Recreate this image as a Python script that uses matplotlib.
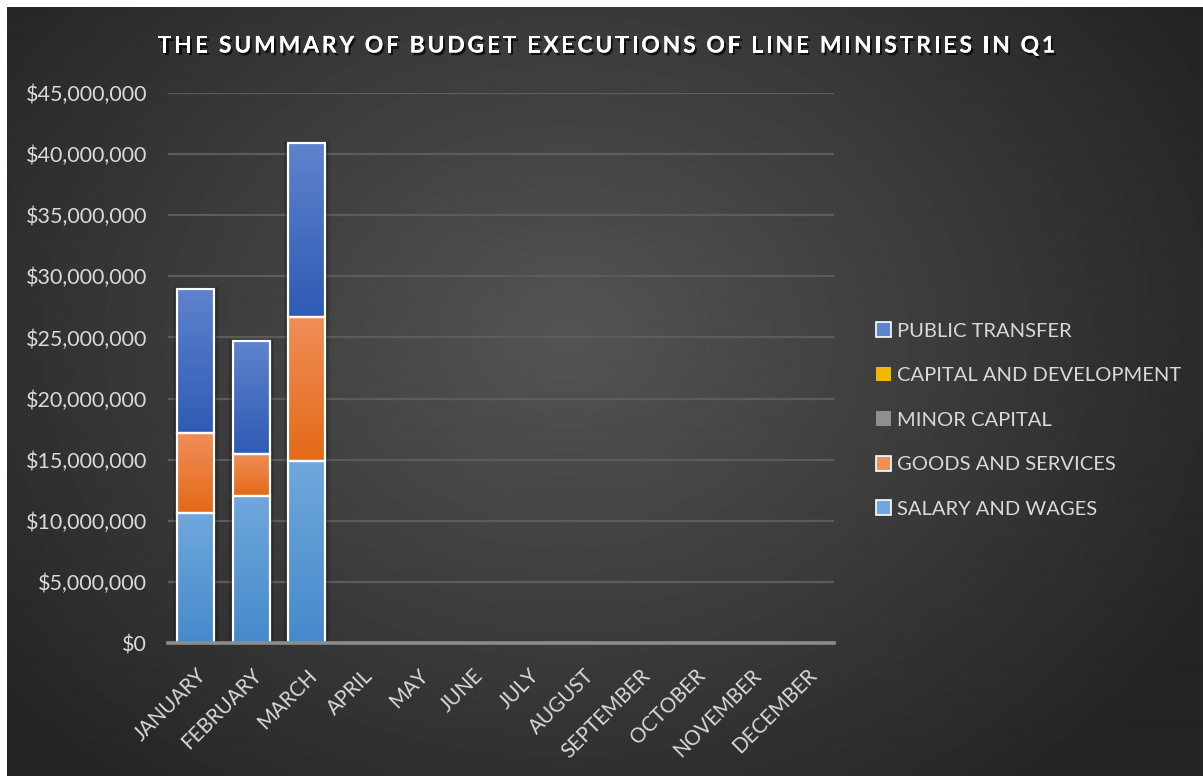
import numpy as np
import matplotlib.pyplot as plt
import matplotlib.patheffects as pe
from matplotlib.patches import Patch, Rectangle
from matplotlib.colors import LinearSegmentedColormap
from matplotlib.ticker import FuncFormatter

months = ['JANUARY', 'FEBRUARY', 'MARCH', 'APRIL', 'MAY', 'JUNE', 'JULY',
          'AUGUST', 'SEPTEMBER', 'OCTOBER', 'NOVEMBER', 'DECEMBER']

# budget executions per month (USD), only Q1 reported
salary_wages = [10640000, 12030000, 14900000, 0, 0, 0, 0, 0, 0, 0, 0, 0]
goods_services = [6540000, 3440000, 11800000, 0, 0, 0, 0, 0, 0, 0, 0, 0]
minor_capital = [0] * 12
capital_development = [0] * 12
public_transfer = [11790000, 9230000, 14200000, 0, 0, 0, 0, 0, 0, 0, 0, 0]

title = 'THE SUMMARY OF BUDGET EXECUTIONS OF LINE MINISTRIES IN Q1'

series = [
    ('SALARY AND WAGES', salary_wages, '#6fa8dc', '#4689cb', True),
    ('GOODS AND SERVICES', goods_services, '#f08e58', '#e36a17', True),
    ('MINOR CAPITAL', minor_capital, '#b5b5b5', '#8f8f8f', False),
    ('CAPITAL AND DEVELOPMENT', capital_development, '#ffd11a', '#f2b800', False),
    ('PUBLIC TRANSFER', public_transfer, '#5f83cd', '#2e5bb4', True),
]

plt.rcParams['font.family'] = ['Lato', 'DejaVu Sans']

fig = plt.figure(figsize=(12.03, 7.76), dpi=100)
fig.patch.set_facecolor('white')

# dark radial background
bg = fig.add_axes([7 / 1203, 0, 1 - 7 / 1203, 1 - 7 / 776])
bg.set_axis_off()
yy, xx = np.mgrid[0:770, 0:1196]
r = np.hypot((xx - 560) / 700.0, (yy - 330) / 560.0)
shade = np.clip(0.33 - 0.18 * r, 0.14, 0.34)
bg.imshow(shade, cmap='gray', vmin=0, vmax=1, aspect='auto',
          extent=[0, 1, 0, 1], interpolation='bilinear')
bg.set_xlim(0, 1)
bg.set_ylim(0, 1)

ax = fig.add_axes([168 / 1203, 1 - 643 / 776, 666 / 1203, 550 / 776])
ax.patch.set_alpha(0)

x = np.arange(len(months))
width = 0.667
totals = np.sum([np.array(s[1], dtype=float) for s in series], axis=0)

# soft shadow around each stacked column
for xi, tot in zip(x, totals):
    if tot <= 0:
        continue
    for grow, a in [(0.16, 0.10), (0.10, 0.14), (0.05, 0.18)]:
        ax.add_patch(Rectangle((xi - width / 2 - grow / 2, 0), width + grow,
                               tot + grow * 1.2e6, facecolor='black',
                               edgecolor='none', alpha=a, zorder=2))

bottom = np.zeros(len(months))
for name, vals, top_c, bot_c, edged in series:
    vals = np.array(vals, dtype=float)
    bars = ax.bar(x, vals, width, bottom=bottom, color='none',
                  edgecolor='white', linewidth=1.6, zorder=4)
    cmap = LinearSegmentedColormap.from_list(name, [bot_c, top_c])
    grad = np.linspace(0, 1, 128).reshape(-1, 1)
    for b, v in zip(bars, vals):
        if v <= 0:
            b.set_visible(False)
            continue
        x0, y0 = b.get_x(), b.get_y()
        ax.imshow(grad, cmap=cmap, origin='lower', aspect='auto',
                  extent=[x0, x0 + b.get_width(), y0, y0 + v], zorder=3)
    bottom += vals

ax.set_xlim(-0.5, len(months) - 0.5)
ax.set_ylim(0, 45000000)
ax.set_yticks(np.arange(0, 45000001, 5000000))
ax.yaxis.set_major_formatter(FuncFormatter(lambda v, p: '${:,.0f}'.format(v)))
ax.grid(axis='y', color='#5c5c5c', linewidth=1.6, zorder=0)
for s in ['top', 'right', 'left']:
    ax.spines[s].set_visible(False)
ax.spines['bottom'].set_color('#8c8c8c')
ax.spines['bottom'].set_linewidth(2.6)
ax.spines['bottom'].set_zorder(5)
ax.tick_params(axis='both', length=0, colors='#d9d9d9', labelsize=15.5)
ax.tick_params(axis='y', pad=15)
ax.set_xticks(x)
ax.set_xticklabels(months, rotation=45, ha='right', va='top',
                   rotation_mode='anchor', fontsize=14.8)
ax.tick_params(axis='x', pad=16)
for lbl in ax.get_xticklabels():
    lbl.set_x(lbl.get_position()[0] - 0.12)

# title drawn letter by letter to get the wide tracking
renderer = fig.canvas.get_renderer()
title_left, title_right = 158, 1055
shadow = [pe.withSimplePatchShadow(offset=(1.5, -2), shadow_rgbFace='black', alpha=0.7),
          pe.Normal()]
chars = []
for ch in title:
    t = fig.text(0, 1 - 46 / 776, ch, ha='left', va='center', color='white',
                 fontsize=16.5, fontweight='bold', path_effects=shadow)
    chars.append(t)
widths = [t.get_window_extent(renderer).width if ch != ' ' else 0
          for t, ch in zip(chars, title)]
space_w = 5.0
base = [w if ch != ' ' else space_w for w, ch in zip(widths, title)]
gap = (title_right - title_left - sum(base)) / (len(title) - 1)
pos = title_left
for t, w in zip(chars, base):
    t.set_x(pos / 1203)
    pos += w + gap

handles = []
for name, vals, top_c, bot_c, edged in reversed(series):
    handles.append(Patch(facecolor=bot_c if not edged else top_c,
                         edgecolor='white' if edged else 'none', linewidth=1.2,
                         label=name))
leg = fig.legend(handles=handles, loc='center left',
                 bbox_to_anchor=(858 / 1203, 1 - 420 / 776), frameon=False,
                 fontsize=14.5, labelcolor='#d9d9d9', handlelength=0.75,
                 handleheight=0.75, handletextpad=0.3, labelspacing=1.35)

fig.savefig('out.png', dpi=100)
